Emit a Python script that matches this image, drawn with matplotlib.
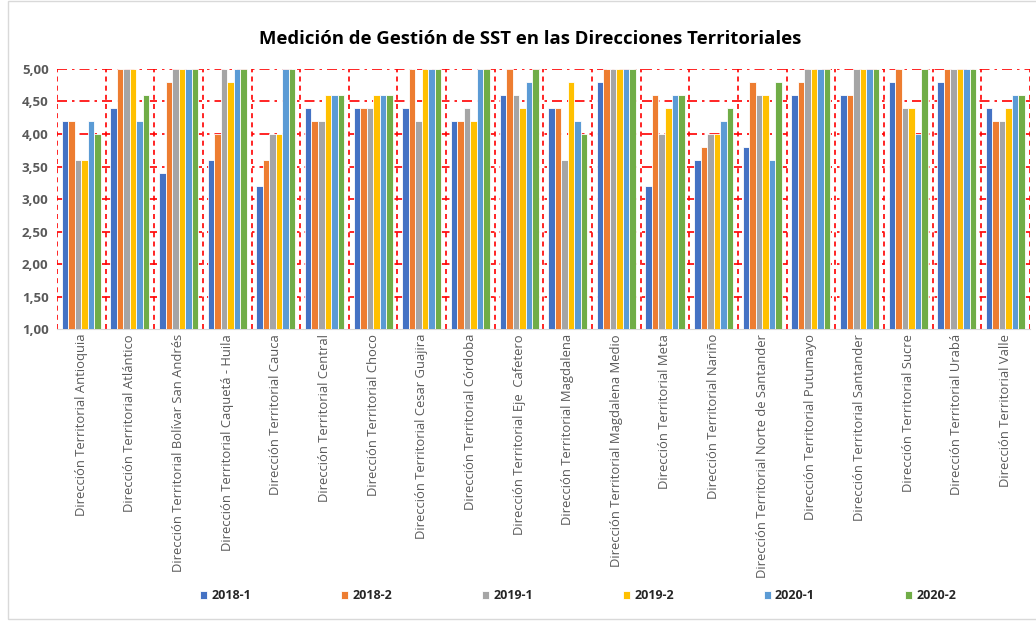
import matplotlib.pyplot as plt
import numpy as np
from matplotlib.patches import Rectangle
from matplotlib.ticker import FuncFormatter

plt.rcParams['font.family'] = ['Open Sans', 'DejaVu Sans']

categorias = [
    'Dirección Territorial Antioquia',
    'Dirección Territorial Atlántico',
    'Dirección Territorial Bolívar San Andrés',
    'Dirección Territorial Caquetá - Huila',
    'Dirección Territorial Cauca',
    'Dirección Territorial Central',
    'Dirección Territorial Choco',
    'Dirección Territorial Cesar Guajira',
    'Dirección Territorial Córdoba',
    'Dirección Territorial Eje  Cafetero',
    'Dirección Territorial Magdalena',
    'Dirección Territorial Magdalena Medio',
    'Dirección Territorial Meta',
    'Dirección Territorial Nariño',
    'Dirección Territorial Norte de Santander',
    'Dirección Territorial Putumayo',
    'Dirección Territorial Santander',
    'Dirección Territorial Sucre',
    'Dirección Territorial Urabá',
    'Dirección Territorial Valle',
]

periodos = ['2018-1', '2018-2', '2019-1', '2019-2', '2020-1', '2020-2']

v_2018_1 = [4.2, 4.4, 3.4, 3.6, 3.2, 4.4, 4.4, 4.4, 4.2, 4.6, 4.4, 4.8, 3.2, 3.6, 3.8, 4.6, 4.6, 4.8, 4.8, 4.4]
v_2018_2 = [4.2, 5.0, 4.8, 4.0, 3.6, 4.2, 4.4, 5.0, 4.2, 5.0, 4.4, 5.0, 4.6, 3.8, 4.8, 4.8, 4.6, 5.0, 5.0, 4.2]
v_2019_1 = [3.6, 5.0, 5.0, 5.0, 4.0, 4.2, 4.4, 4.2, 4.4, 4.6, 3.6, 5.0, 4.0, 4.0, 4.6, 5.0, 5.0, 4.4, 5.0, 4.2]
v_2019_2 = [3.6, 5.0, 5.0, 4.8, 4.0, 4.6, 4.6, 5.0, 4.2, 4.4, 4.8, 5.0, 4.4, 4.0, 4.6, 5.0, 5.0, 4.4, 5.0, 4.4]
v_2020_1 = [4.2, 4.2, 5.0, 5.0, 5.0, 4.6, 4.6, 5.0, 5.0, 4.8, 4.2, 5.0, 4.6, 4.2, 3.6, 5.0, 5.0, 4.0, 5.0, 4.6]
v_2020_2 = [4.0, 4.6, 5.0, 5.0, 5.0, 4.6, 4.6, 5.0, 5.0, 5.0, 4.0, 5.0, 4.6, 4.4, 4.8, 5.0, 5.0, 5.0, 5.0, 4.6]

series = [v_2018_1, v_2018_2, v_2019_1, v_2019_2, v_2020_1, v_2020_2]
colores = ['#4472C4', '#ED7D31', '#A5A5A5', '#FFC000', '#5B9BD5', '#70AD47']

fig = plt.figure(figsize=(10.36, 6.21), dpi=100)
ax = fig.add_axes([0.055, 0.470, 0.939, 0.419])

x = np.arange(len(categorias))
ancho = 0.134
for i, (vals, col) in enumerate(zip(series, colores)):
    ax.bar(x + (i - 2.5) * ancho, np.array(vals) - 1, bottom=1, width=ancho,
           color=col, edgecolor='white', linewidth=0.6, label=periodos[i], zorder=3)

ax.set_xlim(-0.5, len(categorias) - 0.5)
ax.set_ylim(1, 5)
ax.set_yticks(np.arange(1, 5.01, 0.5))
ax.yaxis.set_major_formatter(FuncFormatter(lambda v, p: f'{v:.2f}'.replace('.', ',')))

# rejilla roja
for yv in np.arange(1.5, 5.01, 0.5):
    ax.axhline(yv, color='red', lw=1.2, dashes=(6, 3, 1.5, 3), zorder=1)
for xv in np.arange(-0.5, len(categorias), 1.0):
    ax.axvline(xv, color='red', lw=1.2, dashes=(3, 2.5), zorder=1)

ax.set_xticks(x)
ax.set_xticklabels(categorias, rotation=90, fontsize=9.4, color='#595959', va='top')
ax.tick_params(axis='both', length=0)
ax.tick_params(axis='y', labelsize=9.5, labelcolor='#595959', pad=6)
for t in ax.get_yticklabels():
    t.set_fontweight('bold')
for s in ['top', 'right', 'left']:
    ax.spines[s].set_visible(False)
ax.spines['bottom'].set_color('#D9D9D9')

fig.text(0.512, 0.938, 'Medición de Gestión de SST en las Direcciones Territoriales',
         ha='center', va='center', fontsize=13.3, fontweight='bold', color='black')

leg = fig.legend(loc='lower left', bbox_to_anchor=(0.193, 0.030), ncol=6, frameon=False,
                 handlelength=0.6, handleheight=0.6, handletextpad=0.3,
                 columnspacing=7.2, borderpad=0, borderaxespad=0,
                 prop={'size': 9, 'weight': 'bold'})
for t in leg.get_texts():
    t.set_color('#262626')

fig.patches.append(Rectangle((0.008, 0.003), 0.995, 0.996, transform=fig.transFigure,
                             fill=False, edgecolor='#D9D9D9', lw=1))

fig.savefig('out.png')
